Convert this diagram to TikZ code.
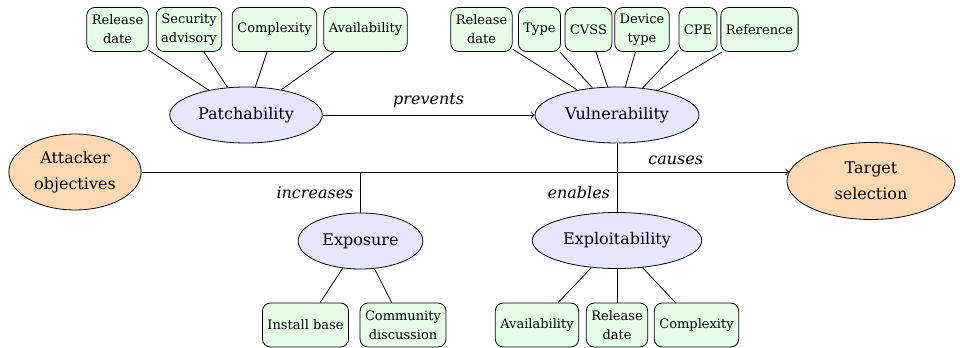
\documentclass[tikz,border=0pt]{standalone}
\usepackage{fontspec}
\setmainfont{DejaVu Serif}
\usetikzlibrary{shapes.geometric}

\definecolor{attrfill}{HTML}{E6FFE6}
\definecolor{factorfill}{HTML}{E6E6FF}
\definecolor{endfill}{HTML}{FFD9B3}

\tikzset{
  attr/.style={draw, rounded corners=4pt, fill=attrfill, align=center,
    minimum height=22pt, inner xsep=2.5pt, inner ysep=1pt,
    font=\fontsize{6.5}{9.5}\selectfont},
  factor/.style={draw, ellipse, fill=factorfill, align=center,
    minimum height=28pt, inner xsep=3pt, inner ysep=3pt,
    font=\fontsize{8}{13}\selectfont},
  endpoint/.style={factor, fill=endfill},
  rel/.style={font=\fontsize{8}{13}\selectfont\itshape},
}

\begin{document}
\begin{tikzpicture}[x=0.5pt, y=-0.5pt]
  \useasboundingbox (0,0) rectangle (960,348);

  % central factors
  \node[factor]   (patch) at (246,115)   {Patchability};
  \node[factor]   (vuln)  at (617,115)   {Vulnerability};
  \node[factor]   (expo)  at (360.5,241) {Exposure};
  \node[factor]   (expl)  at (617,240.5) {Exploitability};
  \node[endpoint] (att)   at (75,172)    {Attacker\\objectives};
  \node[endpoint, minimum width=84pt, minimum height=38.5pt]
                  (tgt)   at (871,181)   {Target\\selection};

  % attributes of patchability
  \node[attr] (p1) at (117.5,29.5) {Release\\date};
  \node[attr] (p2) at (189,29.5)   {Security\\advisory};
  \node[attr] (p3) at (274.5,29.5) {Complexity};
  \node[attr] (p4) at (365.5,29.5) {Availability};

  % attributes of vulnerability
  \node[attr] (v1) at (481.5,29.5) {Release\\date};
  \node[attr] (v2) at (539.5,29.5) {Type};
  \node[attr] (v3) at (588.5,29.5) {CVSS};
  \node[attr] (v4) at (642,29.5)   {Device\\type};
  \node[attr] (v5) at (698,29.5)   {CPE};
  \node[attr] (v6) at (759.5,29.5) {Reference};

  % attributes of exposure
  \node[attr] (e1) at (305.5,325) {Install base};
  \node[attr] (e2) at (403,325)   {Community\\discussion};

  % attributes of exploitability
  \node[attr] (x1) at (537,325) {Availability};
  \node[attr] (x2) at (617,325) {Release\\date};
  \node[attr] (x3) at (696.5,325) {Complexity};

  \foreach \a in {p1,p2,p3,p4} \draw (\a) -- (patch);
  \foreach \a in {v1,v2,v3,v4,v5,v6} \draw (\a) -- (vuln);
  \foreach \a in {e1,e2} \draw (\a) -- (expo);
  \foreach \a in {x1,x2,x3} \draw (\a) -- (expl);

  % junctions on the main arrow
  \coordinate (jE)  at (360.5,172);
  \coordinate (jV)  at (617,172);
  \coordinate (tin) at (789,172);

  \draw[->] (patch) -- node[rel, above] {prevents} (vuln);
  \draw[->] (att) -- node[rel, above, pos=0.825] {causes} (tin);
  \draw (vuln) -- (jV);
  \draw (expl) -- node[rel, left] {enables} (jV);
  \draw (expo) -- node[rel, left] {increases} (jE);
\end{tikzpicture}
\end{document}
